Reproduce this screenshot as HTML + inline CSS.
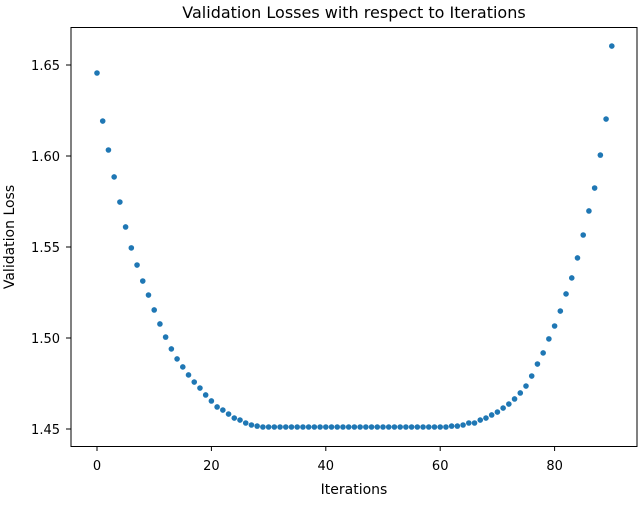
<!DOCTYPE html>
<html><head><meta charset="utf-8"><style>
body{margin:0;background:#fff;width:640px;height:526px;overflow:hidden;font-family:"DejaVu Sans","Liberation Sans",sans-serif}
</style></head><body>
<svg id="chart" width="640" height="526" xmlns="http://www.w3.org/2000/svg" font-family="DejaVu Sans, Liberation Sans, sans-serif">
<text x="354" y="18" text-anchor="middle" font-size="16" fill="#000">Validation Losses with respect to Iterations</text>
<g id="ticks"></g>
<g id="points"></g>
<rect x="71" y="27.5" width="566" height="419" fill="none" stroke="#000" stroke-width="1"/>
<text x="354" y="494" text-anchor="middle" font-size="14">Iterations</text>
<text transform="translate(14,237) rotate(-90)" text-anchor="middle" font-size="14">Validation Loss</text>
</svg>
<script>
const iterations = [];
for (let i = 0; i <= 90; i++) iterations.push(i);
const losses = [1.6456,1.6192,1.6033,1.5885,1.5747,1.5610,1.5495,1.5401,1.5313,1.5236,
1.5154,1.5077,1.5005,1.4940,1.4885,1.4841,1.4797,1.4758,1.4725,1.4687,
1.4654,1.4621,1.4604,1.4582,1.4560,1.4549,1.4533,1.4522,1.4516,1.4511,
1.4511,1.4511,1.4511,1.4511,1.4511,1.4511,1.4511,1.4511,1.4511,1.4511,
1.4511,1.4511,1.4511,1.4511,1.4511,1.4511,1.4511,1.4511,1.4511,1.4511,
1.4511,1.4511,1.4511,1.4511,1.4511,1.4511,1.4511,1.4511,1.4511,1.4511,
1.4511,1.4511,1.4516,1.4516,1.4522,1.4533,1.4533,1.4549,1.4560,1.4577,
1.4593,1.4615,1.4637,1.4665,1.4698,1.4736,1.4791,1.4857,1.4918,1.4995,
1.5066,1.5148,1.5242,1.5330,1.5440,1.5566,1.5698,1.5824,1.6005,1.6203,1.6604];
const xTicks = [0,20,40,60,80];
const yTicks = [1.45,1.50,1.55,1.60,1.65];
const yTickLabels = ["1.45","1.50","1.55","1.60","1.65"];
const NS = "http://www.w3.org/2000/svg";
function xScale(v){ return 97 + v * 5.72; }
function yScale(v){ return 429 - (v - 1.45) * 1820; }
const tg = document.getElementById('ticks');
xTicks.forEach(t => {
  const l = document.createElementNS(NS,'line');
  
  
  l.setAttribute('x1',xScale(t)); l.setAttribute('x2',xScale(t));
  l.setAttribute('y1',446.5); l.setAttribute('y2',451);
  l.setAttribute('stroke','#000');
  tg.appendChild(l);
  const tx = document.createElementNS(NS,'text');
  
  
  tx.setAttribute('x',xScale(t)); tx.setAttribute('y',470);
  tx.setAttribute('text-anchor','middle'); tx.setAttribute('font-size','13');
  tx.textContent = t;
  tg.appendChild(tx);
});
yTicks.forEach((t,i) => {
  const l = document.createElementNS(NS,'line');
  
  
  l.setAttribute('x1',66); l.setAttribute('x2',71);
  l.setAttribute('y1',yScale(t)); l.setAttribute('y2',yScale(t));
  l.setAttribute('stroke','#000');
  tg.appendChild(l);
  const tx = document.createElementNS(NS,'text');
  
  
  tx.setAttribute('x',60); tx.setAttribute('y',yScale(t)+5);
  tx.setAttribute('text-anchor','end'); tx.setAttribute('font-size','13');
  tx.textContent = yTickLabels[i];
  tg.appendChild(tx);
});
const pg = document.getElementById('points');
iterations.forEach((it,i) => {
  const c = document.createElementNS(NS,'circle');
  
  
  c.setAttribute('cx',xScale(it)); c.setAttribute('cy',yScale(losses[i]));
  c.setAttribute('r',2.8); c.setAttribute('fill','#1f77b4');
  pg.appendChild(c);
});
</script>
</body></html>
